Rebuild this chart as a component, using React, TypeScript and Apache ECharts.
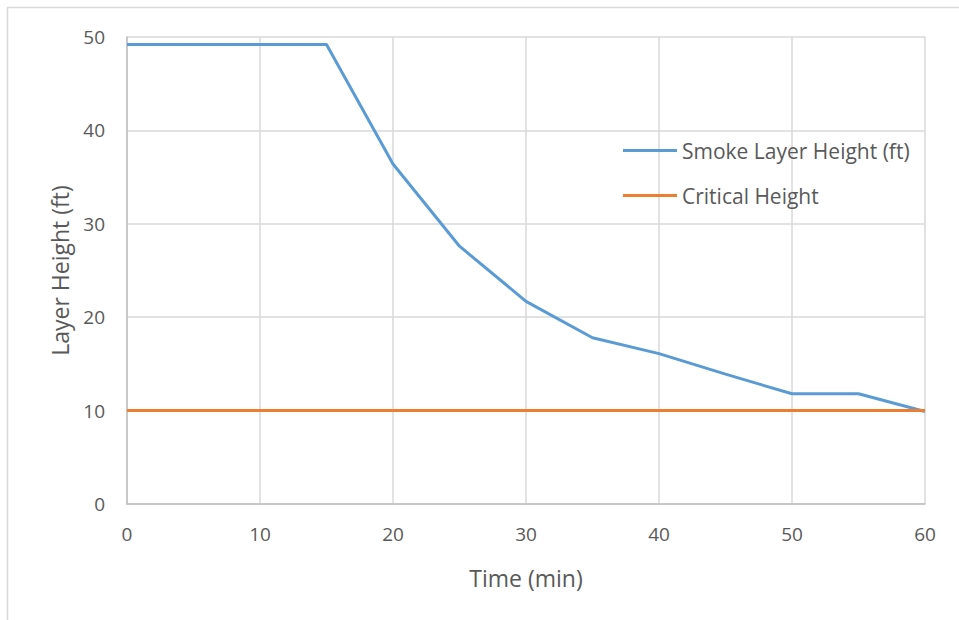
import React, { useEffect, useRef } from "react";
import * as echarts from "echarts";

const timeMin = [0, 5, 10, 15, 20, 25, 30, 35, 40, 45, 50, 55, 60];
const smokeHeight = [49.2, 49.2, 49.2, 49.2, 36.4, 27.6, 21.7, 17.8, 16.1, 13.9, 11.8, 11.8, 9.9];
const criticalHeight = [10, 10, 10, 10, 10, 10, 10, 10, 10, 10, 10, 10, 10];
const seriesNames = ["Smoke Layer Height (ft)", "Critical Height"];

const FONT = "'Open Sans', 'Liberation Sans', sans-serif";

export default function App() {
  const ref = useRef<HTMLDivElement>(null);
  useEffect(() => {
    if (!ref.current) return;
    const chart = echarts.init(ref.current, undefined, { renderer: "svg" });
    chart.setOption({
      animation: false,
      backgroundColor: "#ffffff",
      textStyle: { fontFamily: FONT },
      graphic: [
        {
          type: "rect",
          shape: { x: 7.5, y: 7.5, width: 1200, height: 1200 },
          style: { fill: "none", stroke: "#d9d9d9", lineWidth: 1.5 },
          silent: true,
        },
      ],
      grid: { left: 127, right: 34, top: 37, bottom: 116 },
      legend: {
        orient: "vertical",
        left: 623,
        top: 140,
        padding: 0,
        itemWidth: 54,
        itemHeight: 3,
        itemGap: 24,
        icon: "rect",
        textStyle: { fontSize: 21, color: "#595959", fontFamily: FONT },
        data: seriesNames,
      },
      xAxis: {
        type: "value",
        min: 0,
        max: 60,
        interval: 10,
        name: "Time (min)",
        nameLocation: "middle",
        nameGap: 62,
        nameTextStyle: { fontSize: 23, color: "#595959", fontFamily: FONT },
        axisLine: { show: true, lineStyle: { color: "#bfbfbf", width: 1.5 } },
        axisTick: { show: false },
        axisLabel: { fontSize: 19, color: "#595959", margin: 20, fontFamily: FONT },
        splitLine: { show: true, lineStyle: { color: "#d9d9d9", width: 1.5 } },
      },
      yAxis: {
        type: "value",
        min: 0,
        max: 50,
        interval: 10,
        name: "Layer Height (ft)",
        nameLocation: "middle",
        nameGap: 56,
        nameRotate: 90,
        nameTextStyle: { fontSize: 23, color: "#595959", fontFamily: FONT },
        axisLine: { show: true, lineStyle: { color: "#bfbfbf", width: 1.5 } },
        axisTick: { show: false },
        axisLabel: { fontSize: 19, color: "#595959", margin: 22, fontFamily: FONT },
        splitLine: { show: true, lineStyle: { color: "#d9d9d9", width: 1.5 } },
      },
      series: [
        {
          name: seriesNames[0],
          type: "line",
          data: timeMin.map((t, i) => [t, smokeHeight[i]]),
          showSymbol: false,
          symbol: "none",
          itemStyle: { color: "#5b9bd5" },
          lineStyle: { color: "#5b9bd5", width: 3 },
        },
        {
          name: seriesNames[1],
          type: "line",
          data: timeMin.map((t, i) => [t, criticalHeight[i]]),
          showSymbol: false,
          symbol: "none",
          itemStyle: { color: "#ed7d31" },
          lineStyle: { color: "#ed7d31", width: 3 },
        },
      ],
    });
    return () => chart.dispose();
  }, []);
  return <div ref={ref} style={{ width: 959, height: 620, position: "absolute", left: 0, top: 0 }} />;
}
